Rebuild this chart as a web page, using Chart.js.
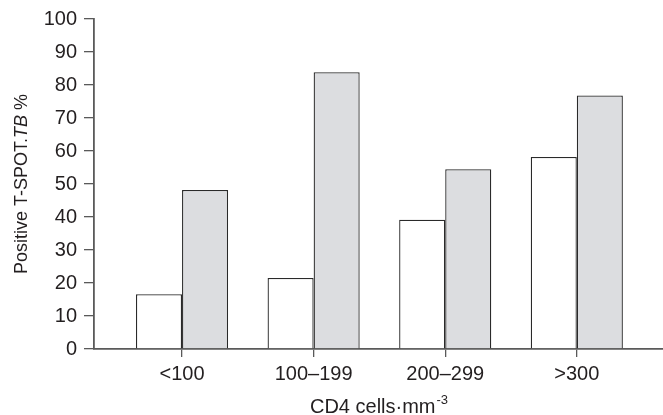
<!DOCTYPE html>
<html>
<head>
<meta charset="utf-8">
<script src="https://cdn.jsdelivr.net/npm/chart.js@4"></script>
<style>
  html, body { margin: 0; padding: 0; background: #fff; }
  #wrap { width: 663px; height: 415px; position: relative; }
</style>
</head>
<body>
<div id="wrap"><canvas id="cd4Chart"></canvas></div>
<script>
// categories and values
const categories = ["<100", "100\u2013199", "200\u2013299", ">300"];
const whiteValues = [16.6, 21.5, 39.2, 58.2];
const greyValues = [48.2, 83.9, 54.5, 76.8];
const yTicks = [0, 10, 20, 30, 40, 50, 60, 70, 80, 90, 100];

const yTitleParts = [["Positive T-SPOT.", ""], ["TB", "italic "], [" %", ""]];
const xTitleMain = "CD4 cells\u00b7mm";
const xTitleSup = "-3";

const FONT = "'Liberation Sans', Arial, Helvetica, sans-serif";
const TEXT = "#231f20";
const AXIS = "#5a5a5a";

// axis titles with italic / superscript parts
const titlePlugin = {
  id: "axisTitles",
  afterDraw(chart) {
    const c = chart.ctx;
    const area = chart.chartArea;
    c.save();
    c.fillStyle = TEXT;
    c.textBaseline = "alphabetic";

    // y title, rotated
    let total = 0;
    yTitleParts.forEach(([t, s]) => {
      c.font = s + "18px " + FONT;
      total += c.measureText(t).width;
    });
    c.translate(27, (area.top + area.bottom) / 2);
    c.rotate(-Math.PI / 2);
    let x = -total / 2;
    yTitleParts.forEach(([t, s]) => {
      c.font = s + "18px " + FONT;
      c.textAlign = "left";
      c.fillText(t, x, 0);
      x += c.measureText(t).width;
    });
    c.setTransform(1, 0, 0, 1, 0, 0);

    // x title with superscript
    c.font = "20px " + FONT;
    const wMain = c.measureText(xTitleMain).width;
    c.font = "13px " + FONT;
    const wSup = c.measureText(xTitleSup).width;
    const start = (area.left + area.right) / 2 - (wMain + wSup) / 2;
    c.textAlign = "left";
    c.font = "20px " + FONT;
    c.fillText(xTitleMain, start, 413);
    c.font = "13px " + FONT;
    c.fillText(xTitleSup, start + wMain + 1, 404);
    c.restore();
  }
};

const ctx = document.getElementById("cd4Chart").getContext("2d");

new Chart(ctx, {
  type: "bar",
  data: {
    datasets: [
      {
        label: "white",
        data: whiteValues.map((v, i) => ({ x: i, y: v })),
        backgroundColor: "#ffffff",
        borderColor: "#2a2a2a",
        borderWidth: 1.3,
        categoryPercentage: 0.7,
        barPercentage: 1.0,
      },
      {
        label: "grey",
        data: greyValues.map((v, i) => ({ x: i, y: v })),
        backgroundColor: "#dcdde0",
        borderColor: "#2a2a2a",
        borderWidth: 1.3,
        categoryPercentage: 0.7,
        barPercentage: 1.0,
      },
    ],
  },
  options: {
    responsive: true,
    maintainAspectRatio: false,
    animation: false,
    layout: { padding: { top: 19, right: 0, left: 0, bottom: 0 } },
    plugins: {
      legend: { display: false },
      tooltip: { enabled: false },
    },
    scales: {
      x: {
        type: "linear",
        offset: false,
        min: -0.669,
        max: 3.655,
        afterBuildTicks: (scale) => {
          scale.ticks = categories.map((c, i) => ({ value: i }));
        },
        afterFit: (scale) => { scale.height = 66; },
        ticks: {
          callback: (v) => categories[v],
          color: TEXT,
          font: { family: FONT, size: 20 },
          padding: 5,
          maxRotation: 0,
        },
        grid: { offset: false, drawOnChartArea: false, drawTicks: true, tickLength: 8, color: AXIS, lineWidth: 1.3 },
        border: { display: true, color: AXIS, width: 1.8 },
      },
      y: {
        min: 0,
        max: 100,
        afterBuildTicks: (scale) => {
          scale.ticks = yTicks.map((v) => ({ value: v }));
        },
        afterFit: (scale) => { scale.width = 94; },
        ticks: {
          color: TEXT,
          font: { family: FONT, size: 20 },
          padding: 7,
        },
        grid: { drawOnChartArea: false, drawTicks: true, tickLength: 10, color: AXIS, lineWidth: 1.3 },
        border: { display: true, color: AXIS, width: 1.8 },
      },
    },
  },
  plugins: [titlePlugin],
});
</script>
</body>
</html>
